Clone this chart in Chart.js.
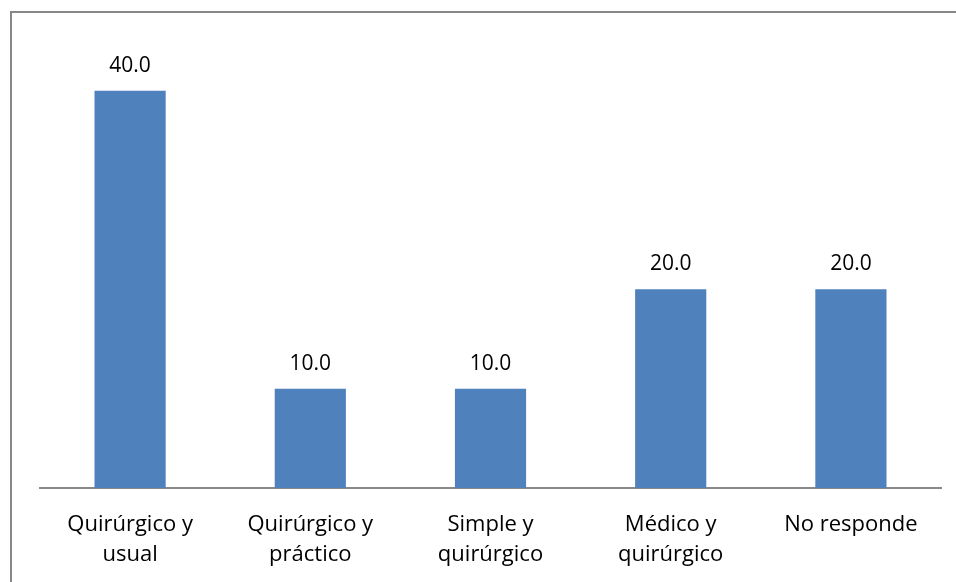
<!DOCTYPE html>
<html>
<head>
<meta charset="utf-8">
<script src="https://cdn.jsdelivr.net/npm/chart.js@4/dist/chart.umd.min.js"></script>
<style>
  html, body { margin: 0; padding: 0; background: #fff; }
  #wrap { position: relative; width: 956px; height: 582px; overflow: hidden; }
  #frame { position: absolute; left: 10px; top: 11px; width: 1000px; height: 700px;
           border-left: 2px solid #878787; border-top: 2px solid #878787; box-sizing: border-box; }
  #c { position: absolute; left: 0; top: 0; }
</style>
</head>
<body>
<div id="wrap">
  <div id="frame"></div>
  <canvas id="c" width="956" height="582"></canvas>
</div>
<script>
// Categories (two-line labels) and percentages
const categories = [
  ['Quirúrgico y', 'usual'],
  ['Quirúrgico y', 'práctico'],
  ['Simple y', 'quirúrgico'],
  ['Médico y', 'quirúrgico'],
  ['No responde']
];
const values = [40.0, 10.0, 10.0, 20.0, 20.0];

const FONT = '"Open Sans", "Noto Sans", sans-serif';

// Writes each bar's value above it
const valueLabels = {
  id: 'valueLabels',
  afterDatasetsDraw(chart) {
    const ctx = chart.ctx;
    const meta = chart.getDatasetMeta(0);
    ctx.save();
    ctx.font = '21px ' + FONT;
    ctx.fillStyle = '#000';
    ctx.textAlign = 'center';
    ctx.textBaseline = 'alphabetic';
    meta.data.forEach((bar, i) => {
      ctx.fillText(values[i].toFixed(1), bar.x, bar.y - 19);
    });
    ctx.restore();
  }
};

new Chart(document.getElementById('c'), {
  type: 'bar',
  data: {
    labels: categories,
    datasets: [{
      data: values,
      backgroundColor: '#4F81BD',
      borderWidth: 0,
      barPercentage: 0.395,
      categoryPercentage: 1.0
    }]
  },
  options: {
    responsive: false,
    animation: false,
    events: [],
    layout: { padding: { left: 40, right: 15, top: 41, bottom: 0 } },
    plugins: { legend: { display: false }, tooltip: { enabled: false } },
    scales: {
      x: {
        grid: { display: false },
        border: { display: true, color: '#898989', width: 2 },
        ticks: {
          color: '#000',
          font: { family: FONT, size: 22, lineHeight: 1.36 },
          padding: 14,
          maxRotation: 0,
          autoSkip: false
        },
        afterFit(scale) { scale.height = 94; }
      },
      y: {
        display: false,
        min: 0,
        max: 45
      }
    }
  },
  plugins: [valueLabels]
});
</script>
</body>
</html>
